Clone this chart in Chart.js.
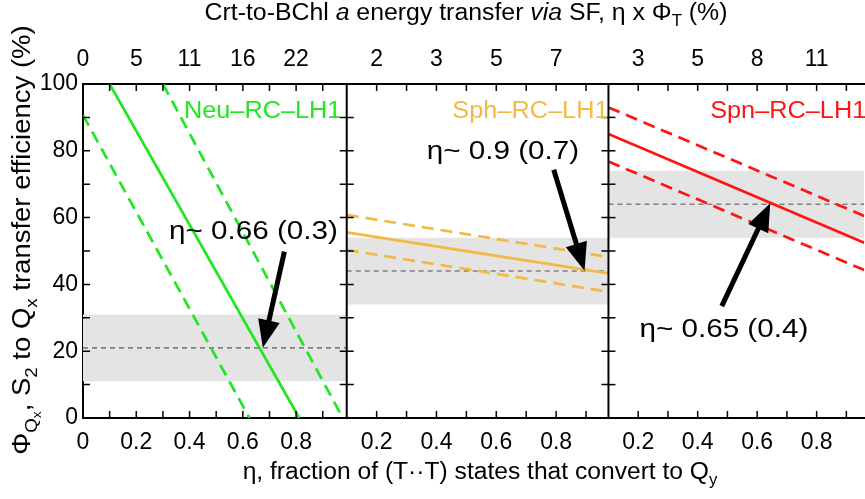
<!DOCTYPE html>
<html lang="en">
<head>
<meta charset="UTF-8">
<title>Crt-to-BChl a energy transfer via SF</title>
<style>
    * { margin: 0; padding: 0; box-sizing: border-box; }
    body { background: #fff; width: 865px; height: 499px; overflow: hidden; }
    #wrap { width: 865px; height: 499px; }
</style>
<script src="https://cdn.jsdelivr.net/npm/chart.js@4.4.1/dist/chart.umd.min.js"></script>
</head>
<body>
<div id="wrap"><canvas id="sfChart" width="865" height="499"></canvas></div>
<script>
// ---- data ----
const panelNames = ['Neu\u2013RC\u2013LH1', 'Sph\u2013RC\u2013LH1', 'Spn\u2013RC\u2013LH1'];
const panelColors = ['#21e621', '#f2b945', '#ff1414'];
const etaMin = [0, 0.1, 0.1];
const etaMax = [0.99, 0.975, 0.96];
const panelWeights = [264, 262, 256];

const bottomTickVals = [[0, 0.2, 0.4, 0.6, 0.8], [0.2, 0.4, 0.6, 0.8], [0.2, 0.4, 0.6, 0.8]];
const bottomTickLabels = [['0', '0.2', '0.4', '0.6', '0.8'], ['0.2', '0.4', '0.6', '0.8'], ['0.2', '0.4', '0.6', '0.8']];
const topTickLabels = [['0', '5', '11', '16', '22'], ['2', '3', '5', '7'], ['3', '5', '8', '11']];
const minorEta = [0.1, 0.2, 0.3, 0.4, 0.5, 0.6, 0.7, 0.8, 0.9];
const yLabelVals = [0, 20, 40, 60, 80, 100];
const yMinor = [10, 20, 30, 40, 50, 60, 70, 80, 90];

// Phi_Qx vs eta: central line and upper / lower bounds
const solidLines = [
    [{x: 0.1, y: 100}, {x: 0.812, y: 0}],
    [{x: 0.1, y: 55.6}, {x: 0.975, y: 43.3}],
    [{x: 0.1, y: 85.0}, {x: 0.96, y: 52.5}]
];
const upperLines = [
    [{x: 0.3, y: 100}, {x: 0.975, y: 0}],
    [{x: 0.1, y: 60.8}, {x: 0.975, y: 48.2}],
    [{x: 0.1, y: 93.0}, {x: 0.96, y: 60.5}]
];
const lowerLines = [
    [{x: 0, y: 90.7}, {x: 0.625, y: 0}],
    [{x: 0.1, y: 50.3}, {x: 0.975, y: 37.8}],
    [{x: 0.1, y: 76.8}, {x: 0.96, y: 44.3}]
];

// measured efficiency: grey band and its mean
const bandLow = [11, 34, 54];
const bandHigh = [31, 54, 74];
const bandMean = [21, 44, 64];

// annotations: [tailEta, tailY, tipEta, tipY]
const arrows = [[0.756, 49.8, 0.675, 21], [0.792, 74.3, 0.895, 44.1], [0.481, 33.5, 0.644, 64.3]];
const annoText = ['\u03b7~ 0.66 (0.3)', '\u03b7~ 0.9 (0.7)', '\u03b7~ 0.65 (0.4)'];
const annoPos = [[0.64, 55.8], [0.622, 79.7], [0.488, 26.3]];
const labelPos = [[0.97, 91.7, 'right'], [0.975, 91.7, 'right'], [0.442, 91.7, 'left']];

const FONT = "'Liberation Sans', Arial, sans-serif";

// ---- datasets ----
const datasets = [];
for (let p = 0; p < 3; p++) {
    const axis = 'x' + p;
    datasets.push({data: solidLines[p], xAxisID: axis, borderColor: panelColors[p], borderWidth: 2.7, order: 1});
    datasets.push({data: upperLines[p], xAxisID: axis, borderColor: panelColors[p], borderWidth: 2.7, borderDash: [12, 7], order: 1});
    datasets.push({data: lowerLines[p], xAxisID: axis, borderColor: panelColors[p], borderWidth: 2.7, borderDash: [12, 7], order: 1});
    datasets.push({
        data: [{x: etaMin[p], y: bandMean[p]}, {x: etaMax[p], y: bandMean[p]}],
        xAxisID: axis, borderColor: '#808080', borderWidth: 1.6, borderDash: [5, 4], order: 2
    });
    datasets.push({
        data: [{x: etaMin[p], y: bandHigh[p]}, {x: etaMax[p], y: bandHigh[p]}],
        xAxisID: axis, borderWidth: 0, borderColor: 'rgba(0,0,0,0)',
        backgroundColor: '#e4e4e4', fill: {value: bandLow[p]}, order: 3
    });
}

function etaScale(p, pos) {
    const vals = bottomTickVals[p];
    const labels = pos === 'bottom' ? bottomTickLabels[p] : topTickLabels[p];
    return {
        type: 'linear', position: pos, stack: pos, stackWeight: panelWeights[p],
        min: etaMin[p], max: etaMax[p],
        grid: {display: false, drawTicks: false},
        border: {display: true, color: '#000', width: 2},
        afterBuildTicks: s => { s.ticks = vals.map(v => ({value: v})); },
        ticks: {
            autoSkip: false, maxRotation: 0, color: '#000',
            font: {family: FONT, size: 23}, padding: 11,
            callback: (v, i) => labels[i]
        },
        afterFit: s => { s.height = pos === 'bottom' ? 81 : 84; }
    };
}

const scales = {
    y: {
        type: 'linear', position: 'left', min: 0, max: 100,
        grid: {display: false, drawTicks: false},
        border: {display: true, color: '#000', width: 2},
        afterBuildTicks: s => { s.ticks = yLabelVals.map(v => ({value: v})); },
        ticks: {color: '#000', font: {family: FONT, size: 23}, padding: 5},
        afterFit: s => { s.width = 83; }
    }
};
for (let p = 0; p < 3; p++) scales['x' + p] = etaScale(p, 'bottom');
// top boxes are laid out in reverse creation order
for (let p = 2; p >= 0; p--) scales['t' + p] = etaScale(p, 'top');

// ---- rich text helpers (italic, subscripts, slight horizontal stretch) ----
function partFont(style, size) {
    let s = size;
    if (style === 's') s = size * 0.68;
    if (style === 'ss') s = size * 0.5;
    return (style === 'i' ? 'italic ' : '') + s + 'px ' + FONT;
}
function partShift(style, size) {
    if (style === 's') return size * 0.26;
    if (style === 'ss') return size * 0.42;
    return 0;
}
function drawRich(ctx, parts, x, y, size, sx) {
    let total = 0;
    parts.forEach(([t, st]) => { ctx.font = partFont(st, size); total += ctx.measureText(t).width; });
    ctx.save();
    ctx.translate(x, y);
    ctx.scale(sx, 1);
    let cx = -total / 2;
    ctx.textAlign = 'left';
    ctx.textBaseline = 'alphabetic';
    parts.forEach(([t, st]) => {
        ctx.font = partFont(st, size);
        ctx.fillText(t, cx, partShift(st, size));
        cx += ctx.measureText(t).width;
    });
    ctx.restore();
}
function drawStretched(ctx, text, x, y, font, sx, align) {
    ctx.save();
    ctx.font = font;
    const w = ctx.measureText(text).width * sx;
    let left = x - w / 2;
    if (align === 'right') left = x - w;
    if (align === 'left') left = x;
    ctx.translate(left, y);
    ctx.scale(sx, 1);
    ctx.textAlign = 'left';
    ctx.textBaseline = 'middle';
    ctx.fillText(text, 0, 0);
    ctx.restore();
}

const titleParts = [['Crt-to-BChl ', ''], ['a', 'i'], [' energy transfer ', ''], ['via', 'i'], [' SF, \u03b7 x \u03a6', ''], ['T', 's'], [' (%)', '']];
const xTitleParts = [['\u03b7, fraction of (T\u00b7\u00b7T) states that convert to Q', ''], ['y', 's']];
const yTitleParts = [['\u03a6', ''], ['Q', 's'], ['x', 'ss'], [', S', ''], ['2', 's'], [' to Q', ''], ['x', 's'], [' transfer efficiency (%)', '']];

const decorations = {
    id: 'decorations',
    afterDraw(chart) {
        const ctx = chart.ctx;
        const area = chart.chartArea;
        const y = chart.scales.y;
        ctx.save();
        ctx.strokeStyle = '#000';

        for (let p = 0; p < 3; p++) {
            const sb = chart.scales['x' + p];
            const st = chart.scales['t' + p];
            // panel divider
            if (p > 0) {
                ctx.lineWidth = 2;
                ctx.beginPath();
                ctx.moveTo(sb.left, area.top);
                ctx.lineTo(sb.left, area.bottom);
                ctx.stroke();
            }
            // inward ticks
            ctx.lineWidth = 1.5;
            minorEta.forEach(v => {
                if (v <= etaMin[p] + 1e-6 || v >= etaMax[p] - 1e-6) return;
                const xb = sb.getPixelForValue(v);
                const xt = st.getPixelForValue(v);
                ctx.beginPath();
                ctx.moveTo(xb, area.bottom); ctx.lineTo(xb, area.bottom - 7);
                ctx.moveTo(xt, area.top); ctx.lineTo(xt, area.top + 7);
                ctx.stroke();
            });
            yMinor.forEach(v => {
                const py = y.getPixelForValue(v);
                ctx.beginPath();
                ctx.moveTo(sb.left, py); ctx.lineTo(sb.left + 7, py);
                if (p < 2) { ctx.moveTo(sb.right, py); ctx.lineTo(sb.right - 7, py); }
                ctx.stroke();
            });

            // sample label
            ctx.fillStyle = panelColors[p];
            drawStretched(ctx, panelNames[p], sb.getPixelForValue(labelPos[p][0]), y.getPixelForValue(labelPos[p][1]),
                '23px ' + FONT, 1.1, labelPos[p][2]);

            // annotation text
            ctx.fillStyle = '#000';
            drawStretched(ctx, annoText[p], sb.getPixelForValue(annoPos[p][0]), y.getPixelForValue(annoPos[p][1]),
                '26px ' + FONT, 1.14, 'center');

            // arrow
            const [te, ty, he, hy] = arrows[p];
            const x0 = sb.getPixelForValue(te), y0 = y.getPixelForValue(ty);
            const x1 = sb.getPixelForValue(he), y1 = y.getPixelForValue(hy);
            const ang = Math.atan2(y1 - y0, x1 - x0);
            const hl = 28, hw = 11;
            const bx = x1 - hl * Math.cos(ang), by = y1 - hl * Math.sin(ang);
            ctx.lineWidth = 5;
            ctx.beginPath();
            ctx.moveTo(x0, y0);
            ctx.lineTo(bx + 4 * Math.cos(ang), by + 4 * Math.sin(ang));
            ctx.stroke();
            ctx.beginPath();
            ctx.moveTo(x1, y1);
            ctx.lineTo(bx + hw * Math.sin(ang), by - hw * Math.cos(ang));
            ctx.lineTo(bx - hw * Math.sin(ang), by + hw * Math.cos(ang));
            ctx.closePath();
            ctx.fill();
        }

        // axis titles
        ctx.fillStyle = '#000';
        drawRich(ctx, titleParts, 466, 20, 23, 1.08);
        drawRich(ctx, xTitleParts, 480, 479, 23, 1.07);
        ctx.translate(30, 240);
        ctx.rotate(-Math.PI / 2);
        drawRich(ctx, yTitleParts, 0, 0, 25, 1.1);
        ctx.restore();
    }
};

new Chart(document.getElementById('sfChart'), {
    type: 'line',
    data: {datasets: datasets},
    options: {
        responsive: false,
        animation: false,
        layout: {padding: 0},
        elements: {point: {radius: 0}, line: {tension: 0}},
        plugins: {legend: {display: false}, tooltip: {enabled: false}},
        scales: scales
    },
    plugins: [decorations]
});
</script>
</body>
</html>
